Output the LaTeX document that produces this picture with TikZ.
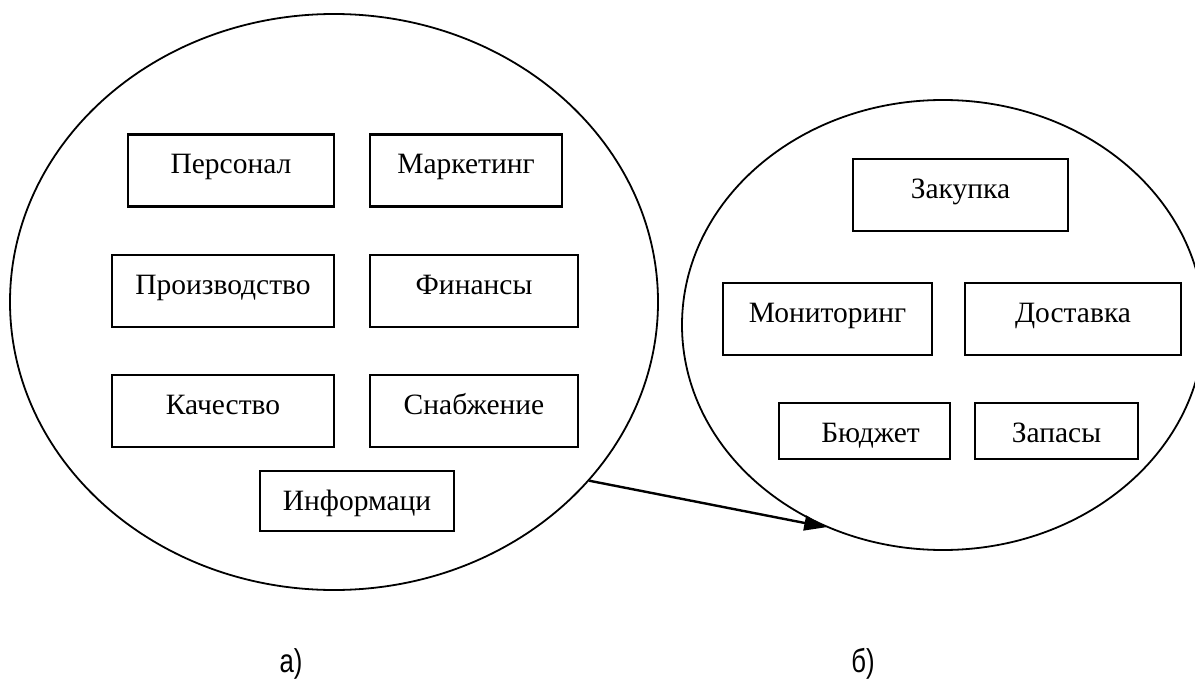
\documentclass[tikz,border=0pt]{standalone}
\usepackage{fontspec}
\setmainfont{Liberation Serif}
\newfontfamily\capfont[FakeStretch=0.78]{Liberation Sans}
\usetikzlibrary{positioning,arrows.meta,shapes.geometric}

\begin{document}
\begin{tikzpicture}[
  x=1pt, y=-1pt,
  font=\fontsize{29.5}{34}\selectfont,
  box/.style={draw, line width=2.2pt, inner sep=0pt, minimum height=72pt, text height=20pt, text depth=14pt, align=center},
  lowbox/.style={box, minimum height=56pt, text height=22pt, text depth=0pt},
  oval/.style={draw, ellipse, line width=1.8pt, inner sep=0pt},
  arr/.style={-{Triangle[length=22pt, width=15pt]}, line width=2.4pt},
  caption/.style={font=\capfont\fontsize{33}{36}\selectfont}]
\useasboundingbox (0,0) rectangle (1195,680);
% a) functions of the firm
\node[oval, minimum width=648pt, minimum height=576pt] (org) at (334,302) {};
\node[box, minimum width=206pt] (pers) at (231,170.5) {Персонал};
\node[box, minimum width=192pt] (mark) at (466,170.5) {Маркетинг};
\node[box, minimum width=222pt] (prod) at (223,291) {Производство};
\node[box, minimum width=208pt] (fin) at (474,291) {Финансы};
\node[box, minimum width=222pt] (qual) at (223,411) {Качество};
\node[box, minimum width=208pt] (snab) at (474,411) {Снабжение};
\node[box, minimum width=194pt, minimum height=60pt, text depth=2pt] (info) at (357,501) {Информаци};
% b) supply
\node[oval, minimum width=522pt, minimum height=450pt] (supply) at (943,325) {};
\node[box, minimum width=215pt] (zak) at (960.5,195) {Закупка};
\node[box, minimum width=209pt] (mon) at (827.5,319) {Мониторинг};
\node[box, minimum width=216pt] (dost) at (1073,319) {Доставка};
\node[lowbox, minimum width=171pt] (budj) at (864.5,431) {\hspace*{12pt}Бюджет};
\node[lowbox, minimum width=163pt] (zap) at (1056.5,431) {Запасы};
\draw[arr] (org.-35.4) -- (supply.240.8);
\node[caption] (capa) at (291,664) {а)};
\node[caption] (capb) at (863,664) {б)};
\end{tikzpicture}
\end{document}
